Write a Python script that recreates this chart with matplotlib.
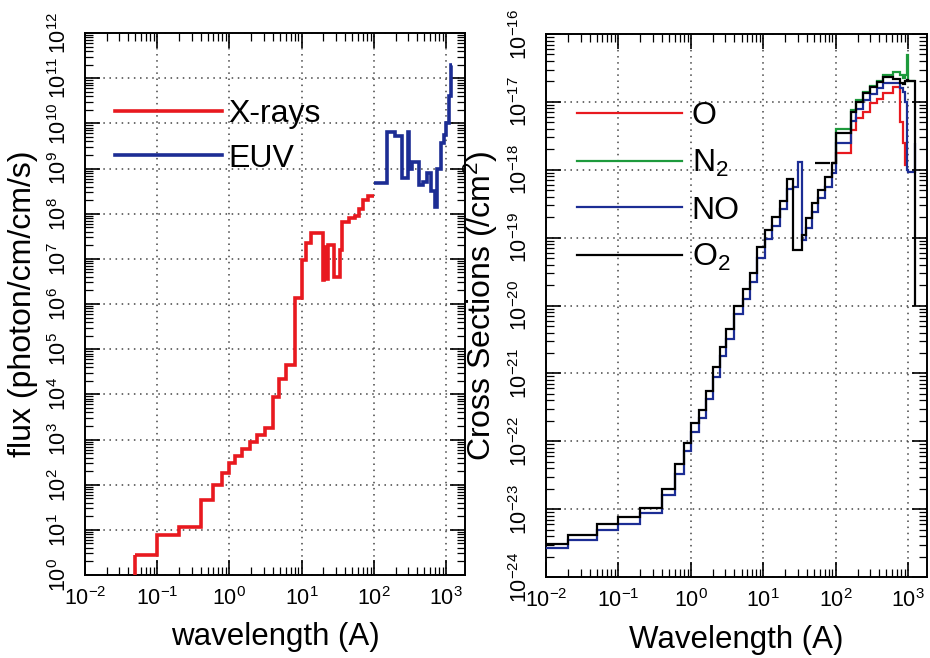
import matplotlib
matplotlib.use("Agg")
import matplotlib.pyplot as plt
import numpy as np
from matplotlib.ticker import LogLocator, NullFormatter

plt.rcParams["font.family"] = ["Liberation Sans", "DejaVu Sans"]
plt.rcParams["mathtext.fontset"] = "custom"
plt.rcParams["mathtext.rm"] = "Liberation Sans"
plt.rcParams["mathtext.it"] = "Liberation Sans:italic"
plt.rcParams["mathtext.bf"] = "Liberation Sans:bold"
plt.rcParams["axes.unicode_minus"] = False

# ---------------------------------------------------------------------------
# Data
# ---------------------------------------------------------------------------
# Left panel: solar flux, X-ray part (bin edges in Angstrom, flux per bin)
xray_edges = [0.05, 0.1, 0.2, 0.4, 0.6, 0.8, 1.0, 1.2, 1.5, 1.9, 2.4, 3.1,
              4.0, 4.9, 6.0, 8.0, 10.0, 11.5, 13.6, 19.5, 20.5, 22.0, 23.0,
              28.0, 33.5, 36.5, 45.0, 54.0, 63.0, 70.0, 82.0, 100.0]
xray_flux = [2.8, 7.7, 11.5, 46, 100, 180, 300, 430, 620, 890, 1.26e3,
             1.8e3, 8.7e3, 2.2e4, 4.5e4, 1.35e6, 9.5e6, 2.2e7, 3.7e7, 3.4e6,
             1.8e7, 3.5e6, 2.0e7, 4.0e6, 1.6e7, 6.6e7, 8.0e7, 9.0e7, 1.25e8,
             2.0e8, 2.5e8]

# Left panel: EUV part
euv_edges = [100, 150, 195, 245, 300, 310, 340, 425, 480, 550, 620, 700,
             750, 850, 920, 1000, 1100, 1160, 1210]
euv_flux = [4.8e8, 6.5e9, 5.3e9, 6.2e8, 6.3e9, 1.0e9, 1.4e9, 4.4e8, 5.0e8,
            7.9e8, 3.2e8, 1.4e8, 1.0e9, 3.7e9, 5.6e9, 1.0e10, 4.0e10,
            2.0e11]

# Right panel: cross sections (common bin edges, Angstrom)
xs_edges = [0.01, 0.02, 0.05, 0.1, 0.2, 0.4, 0.6, 0.8, 1.0, 1.3, 1.6, 2.0,
            2.5, 3.1, 4.0, 5.2, 6.6, 8.3, 10.6, 13.3, 17, 21.5, 26, 30, 34,
            39, 47, 57, 70, 88, 100, 160, 190, 240, 300, 370, 450, 620, 770,
            840, 910, 960, 1000, 1230, 1250]

sigma_o2 = [3.1e-24, 4.2e-24, 6.0e-24, 7.6e-24, 1.05e-23, 2.0e-23, 4.6e-23,
            9.3e-23, 1.86e-22, 2.9e-22, 5.5e-22, 1.23e-21, 2.45e-21,
            4.5e-21, 1.0e-20, 1.74e-20, 3.0e-20, 7.2e-20, 1.29e-19, 2.0e-19,
            3.5e-19, 7.2e-19, 6.6e-20, 6.6e-20, 1.1e-19, 1.95e-19, 3.2e-19,
            5.0e-19, 7.8e-19, 1.26e-18, 3.5e-18, 7.1e-18, 1.0e-17, 1.35e-17,
            1.66e-17, 1.95e-17, 2.3e-17, 2.15e-17, 1.9e-17, 1.82e-17,
            2.0e-17, 2.1e-17, 2.0e-17, 1.0e-20]

# O2 has one wide overlapping bin (drawn as a separate short step)
o2_wide_edges = [52, 84]
o2_wide_sigma = [1.26e-18]

sigma_no = [2.7e-24, 3.5e-24, 5.0e-24, 6.0e-24, 8.9e-24, 1.6e-23, 3.3e-23,
            7.1e-23, 1.38e-22, 2.2e-22, 4.2e-22, 8.9e-22, 1.78e-21, 3.2e-21,
            7.4e-21, 1.26e-20, 2.2e-20, 5.0e-20, 9.5e-20, 1.5e-19, 2.6e-19,
            5.2e-19, 5.6e-19, 1.29e-18, 9.1e-20, 1.41e-19, 2.4e-19, 3.8e-19,
            5.6e-19, 8.9e-19, 2.5e-18, 5.2e-18, 7.9e-18, 1.05e-17, 1.32e-17,
            1.58e-17, 1.9e-17, 1.9e-17, 1.58e-17, 1.41e-17, 1.0e-17, 1.0e-18,
            9.3e-19, 2.5e-18]

sigma_n2 = [np.nan] * 29 + [1.26e-18, 3.98e-18, 7.6e-18, 1.05e-17, 1.41e-17,
            1.74e-17, 2.04e-17, 2.5e-17, 2.75e-17, 2.5e-17, 2.24e-17,
            2.5e-17, 4.9e-17, 2.0e-17, np.nan]

sigma_o = [np.nan] * 29 + [1.26e-18, 1.74e-18, 3.8e-18, 5.75e-18, 7.1e-18,
           9.5e-18, 1.12e-17, 1.35e-17, 1.66e-17, 5.0e-18, 2.5e-18,
           1.17e-18, np.nan, np.nan, np.nan]

RED = "#e8191f"
GREEN = "#1d9a3c"
BLUE = "#1c2d94"


def style_axes(ax, ylim):
    ax.set_xscale("log")
    ax.set_yscale("log")
    ax.set_xlim(1e-2, 1.82e3)
    ax.set_ylim(*ylim)
    ax.xaxis.set_major_locator(LogLocator(base=10, numticks=30))
    ax.yaxis.set_major_locator(LogLocator(base=10, numticks=30))
    ax.xaxis.set_minor_locator(LogLocator(base=10, subs=np.arange(2, 10), numticks=200))
    ax.yaxis.set_minor_locator(LogLocator(base=10, subs=np.arange(2, 10), numticks=200))
    ax.xaxis.set_minor_formatter(NullFormatter())
    ax.yaxis.set_minor_formatter(NullFormatter())
    ax.grid(True, which="major", linestyle=(0, (1, 3)), color="#444444", linewidth=1.1)
    ax.tick_params(which="both", direction="in", top=True, right=True,
                   labelsize=15.5, colors="black")
    ax.tick_params(which="major", length=11, width=1.2)
    ax.tick_params(which="minor", length=6, width=0.9)
    ax.tick_params(axis="x", pad=8.5)
    ax.tick_params(axis="y", pad=10, labelrotation=90)
    plt.setp(ax.get_yticklabels(), va="center")
    for sp in ax.spines.values():
        sp.set_linewidth(1.4)


fig = plt.figure(figsize=(9.3, 6.58), dpi=100)
ax1 = fig.add_axes([0.0914, 0.1261, 0.4086, 0.8237])
ax2 = fig.add_axes([0.5871, 0.1231, 0.4097, 0.8252])

# --- left: flux ---
style_axes(ax1, (1, 1e12))
ax1.stairs(xray_flux, xray_edges, baseline=None, color=RED, lw=2.6,
           zorder=3, label="X-rays")
ax1.vlines(xray_edges[0], 1, xray_flux[0], color=RED, lw=2.6, zorder=3)
ax1.stairs(euv_flux, euv_edges, baseline=None, color=BLUE, lw=2.6,
           zorder=3, label="EUV")
ax1.set_xlabel("wavelength (A)", fontsize=22.5)
ax1.set_ylabel("flux (photon/cm/cm/s)", fontsize=23)
ax1.xaxis.set_label_coords(0.5, -0.087)
ax1.yaxis.set_label_coords(-0.124, 0.5)
ax1.legend(loc="upper left", bbox_to_anchor=(0.079, 0.878), frameon=False,
           fontsize=23, handlelength=3.35, handletextpad=0.2,
           labelspacing=0.45, borderpad=0, borderaxespad=0)

# --- right: cross sections ---
style_axes(ax2, (1e-24, 1e-16))
ax2.stairs(sigma_o, xs_edges, baseline=None, color=RED, lw=1.6, zorder=3, label="O")
ax2.stairs(sigma_n2, xs_edges, baseline=None, color=GREEN, lw=1.6, zorder=3,
           label="N$_2$")
ax2.stairs(sigma_no, xs_edges, baseline=None, color=BLUE, lw=1.6, zorder=3, label="NO")
ax2.stairs(sigma_o2, xs_edges, baseline=None, color="black", lw=1.6, zorder=4,
           label="O$_2$")
ax2.stairs(o2_wide_sigma, o2_wide_edges, baseline=None, color="black", lw=1.6,
           zorder=4)
ax2.set_xlabel("Wavelength (A)", fontsize=22.5)
ax2.set_ylabel("Cross Sections (/cm$^2$)", fontsize=23)
ax2.xaxis.set_label_coords(0.5, -0.088)
ax2.yaxis.set_label_coords(-0.121, 0.5)
ax2.legend(loc="upper left", bbox_to_anchor=(0.081, 0.876), frameon=False,
           fontsize=23, handlelength=3.3, handletextpad=0.3,
           labelspacing=0.52, borderpad=0, borderaxespad=0)

fig.savefig("out.png", dpi=100, facecolor="white")
